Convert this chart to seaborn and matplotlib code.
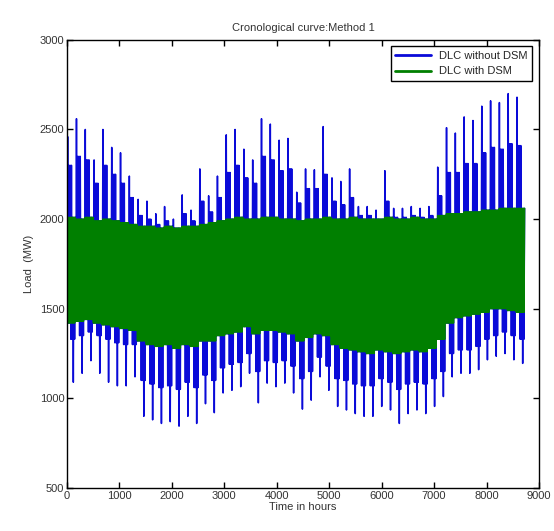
import numpy as np
import pandas as pd
import matplotlib
matplotlib.use("Agg")
import matplotlib.pyplot as plt
import seaborn as sns

# ---- data (weekly envelopes, 52 weeks of 168 h) ----
blue_max = [2460, 2560, 2500, 2330, 2500, 2400, 2370, 2240,
            2110, 2100, 2030, 2070, 2000, 2135, 2050, 2280, 2130,
            2240, 2470, 2500, 2390, 2330, 2560, 2530, 2440, 2450, 2150, 2280, 2275,
            2516, 2230, 2210, 2280, 2070, 2070, 2050, 2270, 2060, 2060, 2070, 2060, 2070,
            2290, 2510, 2480, 2570, 2550, 2630, 2660, 2650, 2700, 2680]
blue_hi = [2300, 2350, 2330, 2200, 2300, 2250, 2200, 2120,
           2020, 2000, 1970, 1990, 1950, 2030, 1990, 2100, 2040,
           2120, 2260, 2300, 2230, 2200, 2350, 2330, 2270, 2280, 2090, 2170, 2170,
           2250, 2100, 2080, 2120, 2020, 2020, 2000, 2100, 2010, 2010, 2020, 2010, 2020,
           2130, 2260, 2260, 2310, 2310, 2370, 2400, 2390, 2420, 2410]
blue_lo = [1330, 1350, 1370, 1350, 1330, 1310, 1300, 1300,
           1100, 1080, 1060, 1070, 1050, 1090, 1060, 1130, 1100,
           1170, 1190, 1200, 1250, 1150, 1210, 1200, 1210, 1180, 1110, 1150, 1230,
           1180, 1110, 1100, 1080, 1070, 1070, 1110, 1090, 1050, 1080, 1090, 1080, 1110,
           1150, 1250, 1270, 1270, 1290, 1330, 1350, 1370, 1350, 1330]
blue_min = [1090, 1140, 1210, 1140, 1090, 1070, 1070, 1120,
            900, 880, 860, 870, 845, 900, 860, 970, 920,
            1030, 1045, 1065, 1140, 975, 1085, 1065, 1085, 1030, 940, 990, 1120,
            1045, 955, 935, 915, 900, 900, 955, 935, 860, 915, 935, 915, 955,
            1010, 1120, 1140, 1140, 1160, 1215, 1235, 1250, 1215, 1195]
green_hi = [2010, 2000, 2010, 1990, 2000, 1990, 1980, 1970,
            1960, 1960, 1950, 1960, 1950, 1960, 1960, 1970, 1980,
            1990, 2000, 2010, 2000, 2000, 2010, 2010, 2000, 2000, 1990, 2000, 2000,
            2010, 2000, 2000, 2010, 2000, 2000, 2000, 2010, 2000, 2000, 2010, 2000, 2000,
            2020, 2030, 2030, 2040, 2040, 2050, 2050, 2060, 2060, 2060]
green_lo = [1420, 1430, 1440, 1420, 1410, 1400, 1390, 1380,
            1320, 1300, 1290, 1300, 1280, 1300, 1290, 1320, 1320,
            1350, 1360, 1370, 1400, 1360, 1380, 1380, 1370, 1360, 1320, 1340, 1360,
            1350, 1300, 1280, 1270, 1260, 1250, 1270, 1260, 1250, 1260, 1270, 1260, 1280,
            1330, 1420, 1450, 1460, 1470, 1480, 1500, 1500, 1490, 1480]

x_ticks = [0, 1000, 2000, 3000, 4000, 5000, 6000, 7000, 8000, 9000]
y_ticks = [500, 1000, 1500, 2000, 2500, 3000]
series_names = ["DLC without DSM", "DLC with DSM"]

# ---- assemble day-level vertices (day high / day low) from the weekly values ----
rows = []
for w in range(len(blue_max)):
    for d in range(7):
        h0 = w * 168 + d * 24
        if d == 0:
            b_high = blue_max[w]
        elif d <= 3:
            b_high = blue_hi[w]
        else:
            b_high = green_hi[w]
        if d == 5:
            b_low = blue_min[w]
        elif d >= 3:
            b_low = blue_lo[w]
        else:
            b_low = green_lo[w]
        rows.append((h0, b_low, series_names[0]))
        rows.append((h0 + 12, b_high, series_names[0]))
        rows.append((h0, green_lo[w], series_names[1]))
        rows.append((h0 + 12, green_hi[w], series_names[1]))
df = pd.DataFrame(rows, columns=["hour", "load", "series"])

sns.set_style("white")
plt.rcParams["font.family"] = ["Liberation Sans Narrow", "Liberation Sans", "DejaVu Sans"]

fig = plt.figure(figsize=(5.54, 5.31), dpi=100)
ax = fig.add_axes([0.121, 0.081, 0.852, 0.844])

sns.lineplot(data=df, x="hour", y="load", hue="series", hue_order=series_names,
             palette=["#0a0ad8", "#007f00"], estimator=None, sort=False,
             linewidth=1.1, ax=ax)

ax.set_xlim(0, 9000)
ax.set_ylim(500, 3000)
ax.set_xticks(x_ticks)
ax.set_yticks(y_ticks)
ax.set_xticklabels([str(t) for t in x_ticks], fontsize=8, color="#333333")
ax.set_yticklabels([str(t) for t in y_ticks], fontsize=8, color="#333333")
ax.tick_params(direction="in", length=4, width=1, top=True, right=True,
               bottom=True, left=True, colors="black", labelcolor="#333333", pad=2)
for s in ax.spines.values():
    s.set_visible(True)
    s.set_color("black")
    s.set_linewidth(1.0)

ax.set_xlabel("Time in hours", fontsize=8, color="#333333", labelpad=1)
ax.set_ylabel("Load  (MW)", fontsize=8, color="#333333", labelpad=4)
ax.set_title("Cronological curve:Method 1", fontsize=8, color="#333333", pad=6)

leg = ax.legend(loc="upper right", fontsize=8, frameon=True, fancybox=False,
                edgecolor="black", framealpha=1, borderaxespad=0.6, handlelength=3.2)
leg.get_frame().set_linewidth(1.0)
for line in leg.get_lines():
    line.set_linewidth(2.0)

fig.savefig("out.png", dpi=100)
